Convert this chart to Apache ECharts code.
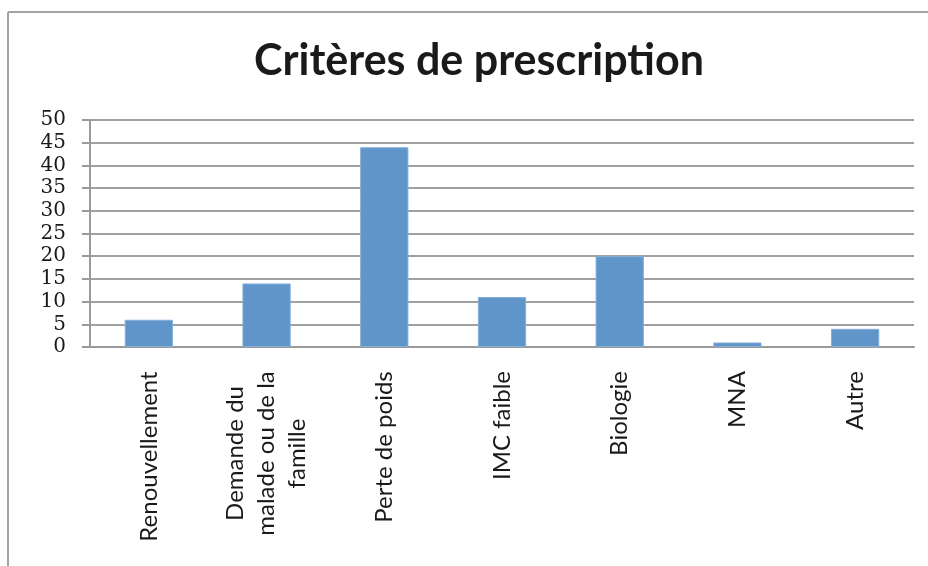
<!DOCTYPE html>
<html>
<head>
<meta charset="utf-8">
<script src="https://cdn.jsdelivr.net/npm/echarts@6/dist/echarts.min.js"></script>
<style>
  html, body { margin: 0; padding: 0; background: #fff; }
  #chart { width: 928px; height: 566px; }
</style>
</head>
<body>
<div id="chart"></div>
<script>
// data
var categories = [
  "Renouvellement",
  "Demande du\nmalade ou de la\nfamille",
  "Perte de poids",
  "IMC faible",
  "Biologie",
  "MNA",
  "Autre"
];
var values = [6, 14, 44, 11, 20, 1, 4];
var yMin = 0, yMax = 50, yStep = 5;

var labelFont = "Lato";
var labelSize = 24;

// each multi-line label is centred on its longest line (like Excel)
var ctx = document.createElement("canvas").getContext("2d");
ctx.font = labelSize + "px " + labelFont;
var rich = {};
categories.forEach(function (c, i) {
  var w = 0;
  c.split("\n").forEach(function (l) {
    w = Math.max(w, ctx.measureText(l).width);
  });
  rich["c" + i] = {
    width: Math.ceil(w),
    align: "center",
    fontFamily: labelFont,
    fontSize: labelSize,
    lineHeight: 31,
    color: "#1a1a1a"
  };
});

var myChart = echarts.init(document.getElementById("chart"));
var option = {
  animation: false,
  title: {
    text: "Critères de prescription",
    left: 474,
    top: 35,
    textAlign: "center",
    textStyle: {
      fontFamily: "Lato",
      fontWeight: "bold",
      fontSize: 43,
      color: "#1a1a1a"
    }
  },
  graphic: [
    { type: "line", shape: { x1: 8, y1: 12, x2: 928, y2: 12 }, style: { stroke: "#a3a3a3", lineWidth: 2 } },
    { type: "line", shape: { x1: 8, y1: 12, x2: 8, y2: 566 }, style: { stroke: "#a3a3a3", lineWidth: 2 } }
  ],
  grid: { left: 90, right: 14, top: 120, bottom: 219 },
  xAxis: {
    type: "category",
    data: categories,
    axisLine: { lineStyle: { color: "#9a9a9a", width: 2 } },
    axisTick: { length: 8, lineStyle: { color: "#9a9a9a", width: 2 } },
    axisLabel: {
      interval: 0,
      rotate: 90,
      margin: 24,
      formatter: function (value, idx) {
        return value.split("\n").map(function (l) {
          return "{c" + idx + "|" + l + "}";
        }).join("\n");
      },
      rich: rich
    }
  },
  yAxis: {
    type: "value",
    min: yMin,
    max: yMax,
    interval: yStep,
    axisLine: { show: true, lineStyle: { color: "#9a9a9a", width: 2 } },
    axisTick: { show: true, length: 8, lineStyle: { color: "#9a9a9a", width: 2 } },
    splitLine: { lineStyle: { color: "#a0a0a0", width: 2 } },
    axisLabel: {
      margin: 24,
      fontFamily: "DejaVu Serif",
      fontSize: 20,
      color: "#1a1a1a"
    }
  },
  series: [
    {
      name: "Critères",
      type: "bar",
      data: values,
      barCategoryGap: "59%",
      itemStyle: { color: "#5f95c9", borderColor: "#84afd9", borderWidth: 1 }
    }
  ]
};
myChart.setOption(option);
</script>
</body>
</html>
